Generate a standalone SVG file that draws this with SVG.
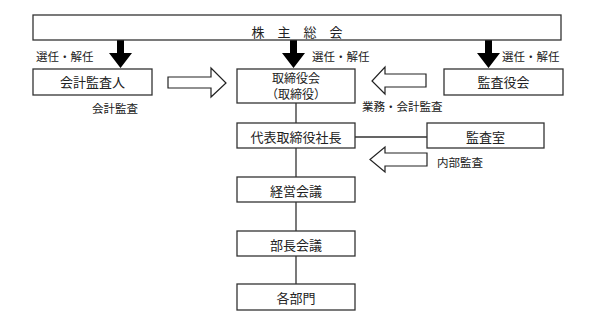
<svg xmlns="http://www.w3.org/2000/svg" width="599" height="324" viewBox="0 0 599 324">
<style>
.box{fill:#fff;stroke:#333;stroke-width:1.3}
.t{font-family:"Noto Sans CJK JP","Noto Sans CJK SC",sans-serif;font-size:13px;fill:#222;text-anchor:middle}
.t2{font-family:"Noto Sans CJK JP","Noto Sans CJK SC",sans-serif;font-size:12px;fill:#222;text-anchor:middle}
.s{font-family:"Noto Sans CJK JP","Noto Sans CJK SC",sans-serif;font-size:11.5px;fill:#222}
.ln{stroke:#333;stroke-width:1.3;fill:none}
.ba{fill:#000}
.ha{fill:#fff;stroke:#222;stroke-width:1.2}
</style>
<rect width="599" height="324" fill="#fff"/>
<g id="connectors">
<path class="ln" d="M296 103V123M296 148V177M296 202V231M296 256V284M355 137H427"/>
<path class="ba" d="M117 39H124V53H132L120.5 68L109 53H117Z"/>
<path class="ba" d="M290 39H297V53H305L293.5 68L282 53H290Z"/>
<path class="ba" d="M485 39H492V53H500L488.5 68L477 53H485Z"/>
<path class="ha" d="M168 77H211V68L226 83L211 97V88H168Z"/>
<path class="ha" d="M426 74H385V67L372 81L385 94V87H426Z"/>
<path class="ha" d="M427 153H385V147L370 159.5L385 172V166H427Z"/>
</g>
<g id="labels">
<text class="s" x="36" y="61">選任・解任</text>
<text class="s" x="312" y="61">選任・解任</text>
<text class="s" x="502" y="61">選任・解任</text>
<text class="s" x="92" y="113">会計監査</text>
<text class="s" x="362" y="111">業務・会計監査</text>
<text class="s" x="437" y="167">内部監査</text>
</g>
<g id="shareholders"><rect class="box" x="33" y="15" width="528" height="25"/><text class="t" x="297" y="37">株　主　総　会</text></g>
<g id="auditor"><rect class="box" x="33" y="69" width="119" height="26"/><text class="t" x="92.5" y="87">会計監査人</text></g>
<g id="board"><rect class="box" x="237" y="69" width="118" height="34"/><text class="t2" x="296" y="83">取締役会</text><text class="t2" x="296" y="98.5">（取締役）</text></g>
<g id="kansayaku"><rect class="box" x="444" y="69" width="119" height="26"/><text class="t" x="503.5" y="87">監査役会</text></g>
<g id="president"><rect class="box" x="237" y="123" width="118" height="25"/><text class="t" x="296" y="142">代表取締役社長</text></g>
<g id="auditroom"><rect class="box" x="427" y="123" width="117" height="25"/><text class="t" x="485.5" y="142">監査室</text></g>
<g id="management"><rect class="box" x="237" y="177" width="118" height="25"/><text class="t" x="296" y="196">経営会議</text></g>
<g id="managers"><rect class="box" x="237" y="231" width="118" height="25"/><text class="t" x="296" y="250">部長会議</text></g>
<g id="departments"><rect class="box" x="237" y="284" width="118" height="26"/><text class="t" x="296" y="303">各部門</text></g>
</svg>
